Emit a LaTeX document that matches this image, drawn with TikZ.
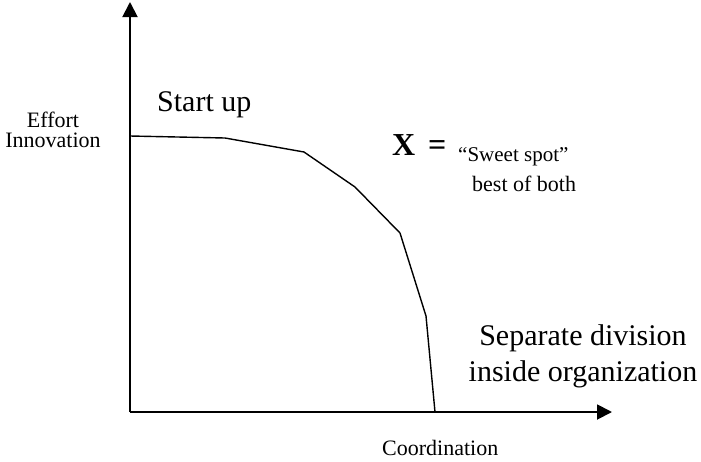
\documentclass[tikz,border=0pt]{standalone}
\usepackage{fontspec}
\setmainfont{Liberation Serif}
\usetikzlibrary{arrows.meta, positioning}

\tikzset{
  axis/.style={line width=1.9pt, -{Triangle[length=15pt, width=15pt]}},
  frontier/.style={line width=1.4pt, line join=round},
  biglabel/.style={inner sep=0, font=\fontsize{30}{36}\selectfont},
  smalllabel/.style={inner sep=0, font=\fontsize{22}{20}\selectfont},
}

\begin{document}
\begin{tikzpicture}[x=1pt, y=-1pt]
\useasboundingbox (0,0) rectangle (701,461);

% --- Axes ---
\coordinate (origin) at (130,412);
\coordinate (ytip) at (130,2);
\coordinate (xtip) at (612,412);
\draw[axis] (origin) -- (ytip);
\draw[axis] (origin) -- (xtip);

% --- Frontier ---
\draw[frontier] (130,136) -- (225,138) -- (304,152) -- (355,187) -- (400,233) -- (426,316) -- (435,412);

% --- Labels ---
\node[smalllabel, align=center, anchor=base] (effort) at (53,147) {Effort\\Innovation};
\node[smalllabel, anchor=base west] (coord) at (382,455) {Coordination};
\node[biglabel, anchor=base west] (startup) at (157,111) {Start up};
\node[inner sep=0, anchor=base west, font=\fontsize{32}{32}\selectfont\bfseries] (sweet) at (392,155) {X\hspace{0.4em}=};
\node[inner sep=0, anchor=base west, font=\fontsize{21}{21}\selectfont] (quote) at (458,161) {``Sweet spot''};
\node[smalllabel, anchor=base west] (both) at (472,191) {best of both};
\node[biglabel, align=center, anchor=base] (separate) at (583,381) {Separate division\\inside organization};

\end{tikzpicture}
\end{document}
